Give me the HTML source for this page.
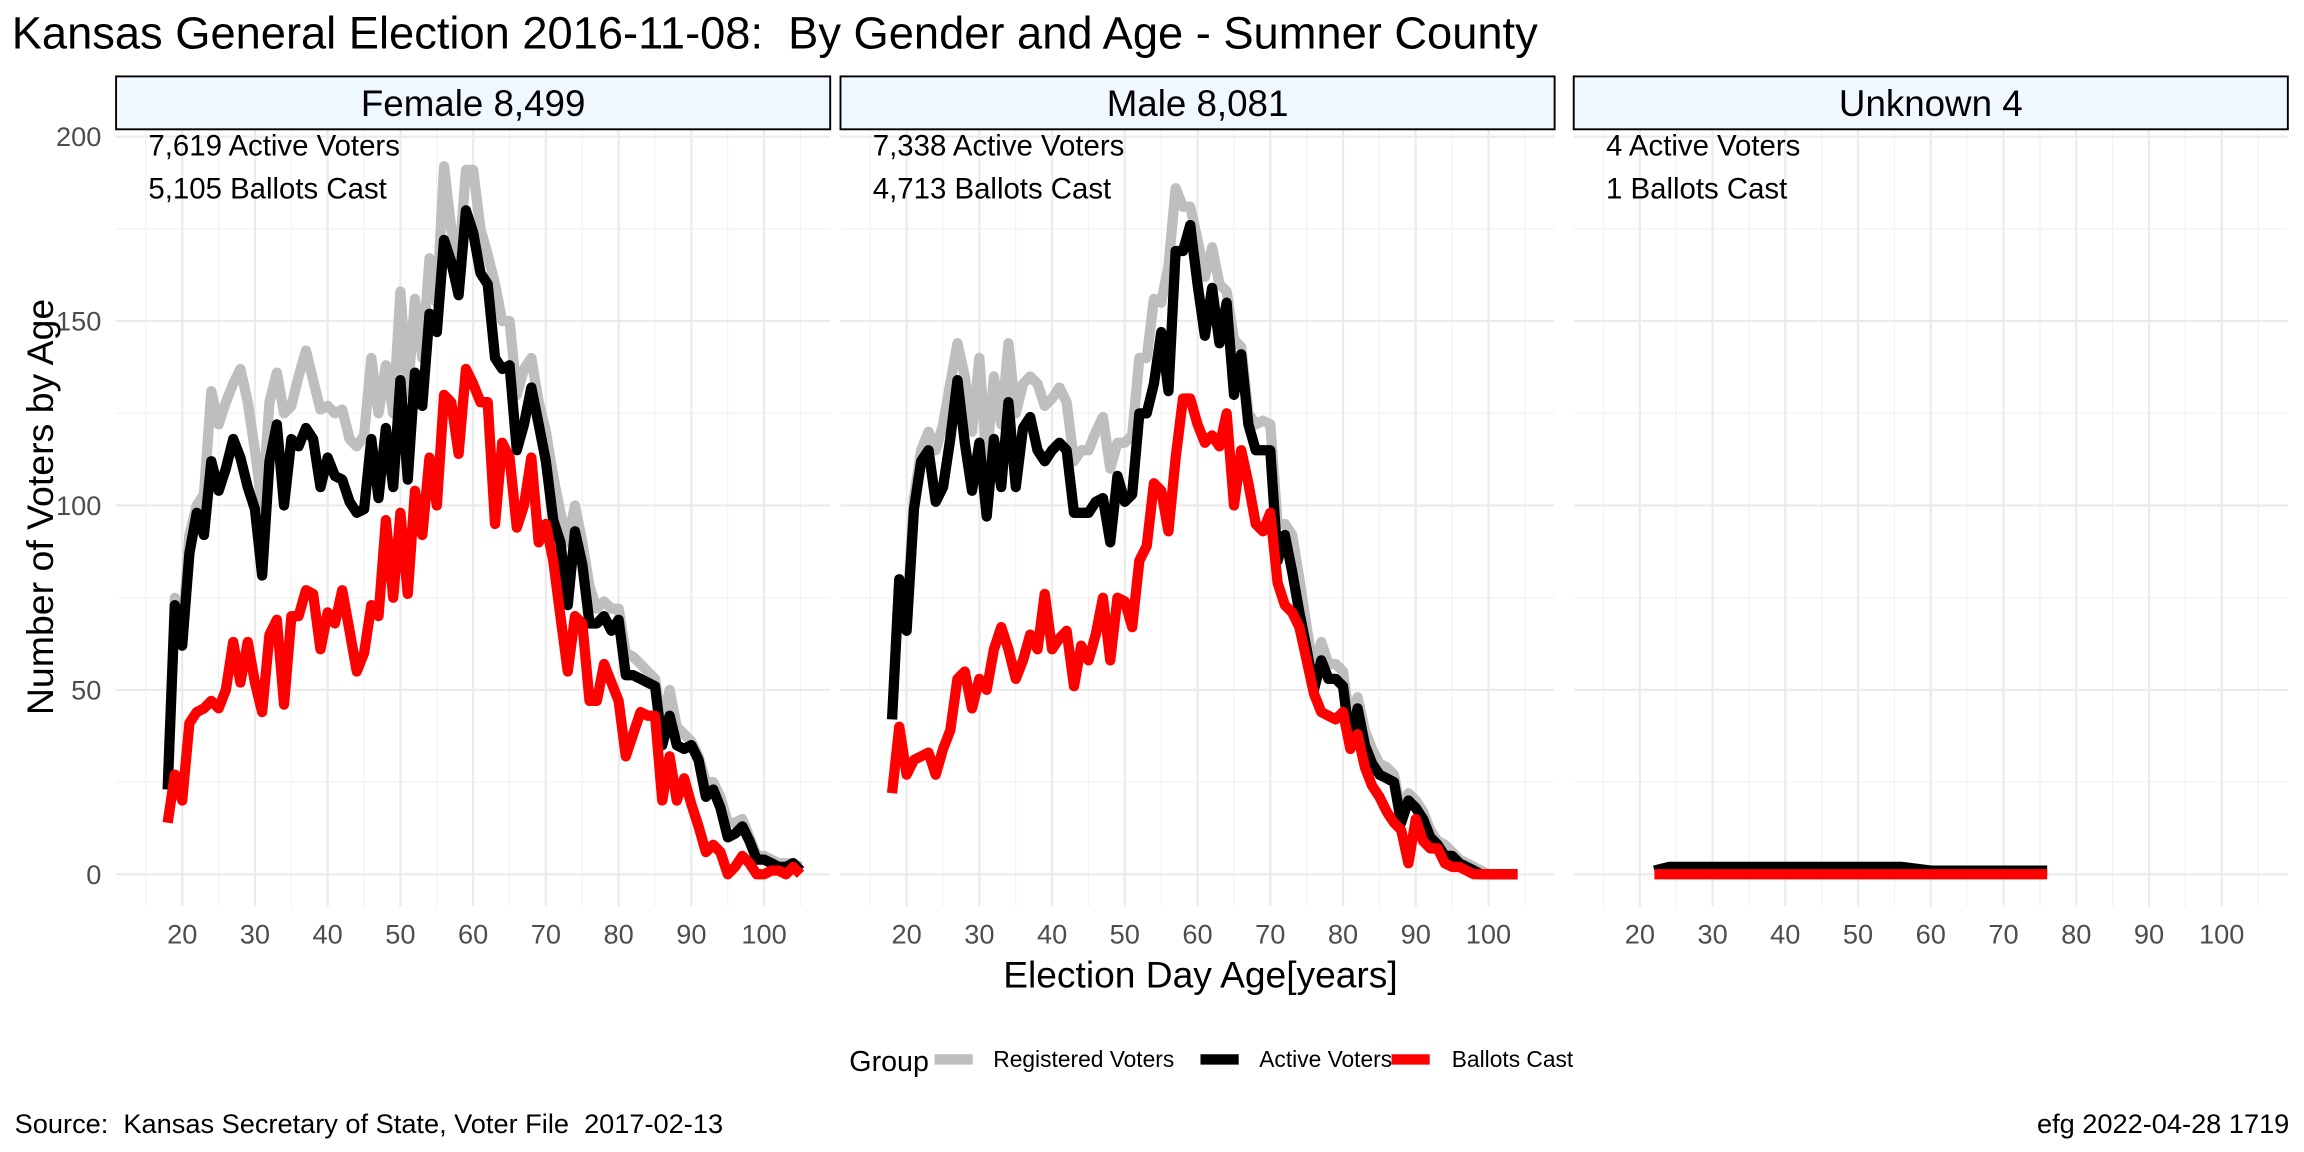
<!DOCTYPE html>
<html><head><meta charset="utf-8"><style>
html,body{margin:0;padding:0;background:#fff;}
svg{display:block;font-family:"Liberation Sans",sans-serif;}
text{white-space:pre;}
</style></head><body>
<svg id="chart" width="2304" height="1152" viewBox="0 0 1568 784" xmlns="http://www.w3.org/2000/svg" xml:space="preserve">
<rect width="1568" height="784" fill="#fff"/>
<text x="8" y="33" font-size="30.8" fill="#000">Kansas General Election 2016-11-08:  By Gender and Age - Sumner County</text>
<g id="panels"></g>
<text transform="translate(36,345) rotate(-90)" text-anchor="middle" font-size="25.5">Number of Voters by Age</text>
<text x="817" y="672" text-anchor="middle" font-size="25.3">Election Day Age[years]</text>
<g>
<text x="578" y="729" font-size="19.5">Group</text>
<line x1="636" y1="721" x2="662" y2="721" stroke="#bebebe" stroke-width="7"/>
<text x="676" y="726" font-size="15.5">Registered Voters</text>
<line x1="817" y1="721" x2="843" y2="721" stroke="#000" stroke-width="7"/>
<text x="857" y="726" font-size="15.5">Active Voters</text>
<line x1="947" y1="721" x2="973" y2="721" stroke="#ff0000" stroke-width="7"/>
<text x="988" y="726" font-size="15.5">Ballots Cast</text>
</g>
<text x="10" y="771" font-size="18.5">Source:  Kansas Secretary of State, Voter File  2017-02-13</text>
<text x="1558" y="771" font-size="18.5" text-anchor="end">efg 2022-04-28 1719</text>
</svg>
<script>
const ages=[];for(let a=18;a<=105;a++)ages.push(a);
const agesMale=[];for(let a=18;a<=104;a++)agesMale.push(a);
const agesUnknown=[22,24,30,43,56,60,76];
const femaleRegistered=[23,75,65,92,100,103,131,122,128,133,137,128,115,100,128,136,125,127,135,142,134,126,127,125,126,118,116,119,140,125,138,125,158,130,156,140,167,155,192,175,165,191,191,175,168,160,150,150,130,137,140,128,120,108,98,90,100,90,78,72,74,72,72,60,59,57,55,53,40,50,40,38,36,32,25,25,21,14,14,15,10,5,5,4,3,3,3,2];
const femaleActive=[23,73,62,87,98,92,112,104,110,118,113,105,99,81,112,122,100,118,116,121,118,105,113,108,107,101,98,99,118,102,121,105,134,107,136,127,152,147,172,166,157,180,174,163,160,140,137,138,115,122,132,122,112,96,90,73,93,84,68,68,70,66,69,54,54,53,52,51,35,43,35,34,35,31,21,23,18,10,11,13,9,4,4,3,2,2,3,1];
const femaleBallots=[14,27,20,41,44,45,47,45,50,63,52,63,52,44,65,69,46,70,70,77,76,61,71,68,77,66,55,60,73,70,96,75,98,76,104,92,113,100,130,128,114,137,133,128,128,95,117,113,94,100,113,90,95,85,70,55,70,68,47,47,57,52,47,32,38,44,43,43,20,32,20,26,19,13,6,8,6,0,2,5,3,0,0,1,1,0,2,0];
const maleRegistered=[42,80,68,102,115,120,115,122,133,144,135,120,140,112,135,122,144,125,133,135,133,127,129,132,128,112,115,115,120,124,110,117,117,119,140,140,156,155,165,186,181,181,172,162,170,160,158,145,143,125,122,123,122,95,95,92,80,67,55,63,57,57,55,40,48,39,34,30,29,27,17,22,20,17,12,9,8,6,4,3,2,1,0,0,0,0,0];
const maleActive=[42,80,66,99,112,115,101,105,118,134,117,104,117,97,118,105,128,105,121,124,115,112,115,117,115,98,98,98,101,102,90,108,101,103,125,125,133,147,131,169,169,176,160,146,159,144,155,130,141,122,115,115,115,85,92,82,71,61,50,58,53,53,51,35,45,35,30,27,26,25,14,20,18,15,10,8,5,5,3,2,1,0,0,0,0,0,0];
const maleBallots=[22,40,27,31,32,33,27,34,39,53,55,45,53,50,61,67,61,53,58,65,61,76,61,64,66,51,62,58,65,75,58,75,74,67,85,89,106,104,93,113,129,129,122,117,119,116,125,100,115,106,95,93,98,79,73,71,67,58,49,44,43,42,44,34,38,29,24,21,17,14,12,3,15,9,7,7,3,2,2,1,0,0,0,0,0,0,0];
const unknownRegistered=[1,2,2,2,2,1,1];
const unknownActive=[1,2,2,2,2,1,1];
const unknownBallots=[0,0,0,0,0,0,0];
const yTicks=[0,50,100,150,200];
const xTicks=[20,30,40,50,60,70,80,90,100];

const NS="http://www.w3.org/2000/svg";
const g=document.getElementById('panels');
function mk(tag,attrs,parent){const e=document.createElementNS(NS,tag);for(const k in attrs)e.setAttribute(k,attrs[k]);(parent||g).appendChild(e);return e;}
const yScale=v=>595-v*2.51;
const panelTop=88,panelBottom=617,panelW=486;
const panels=[
 {x0:79,name:'female',label:'Female 8,499',t1:'7,619 Active Voters',t2:'5,105 Ballots Cast',ages:ages,reg:femaleRegistered,act:femaleActive,bal:femaleBallots},
 {x0:572,name:'male',label:'Male 8,081',t1:'7,338 Active Voters',t2:'4,713 Ballots Cast',ages:agesMale,reg:maleRegistered,act:maleActive,bal:maleBallots},
 {x0:1071,name:'unknown',label:'Unknown 4',t1:'4 Active Voters',t2:'1 Ballots Cast',ages:agesUnknown,reg:unknownRegistered,act:unknownActive,bal:unknownBallots}
];
panels.forEach((p,pi)=>{
 const xScale=a=>p.x0+45+(a-20)*4.95;
 const pg=mk('g',{});
 
 
 for(let v=25;v<=200;v+=50){const l=mk('line',{x1:p.x0,x2:p.x0+panelW,y1:yScale(v),y2:yScale(v),stroke:'#f2f2f2','stroke-width':0.8},pg);
  }
 for(let a=15;a<=105;a+=10){const l=mk('line',{x1:xScale(a),x2:xScale(a),y1:panelTop,y2:panelBottom,stroke:'#f2f2f2','stroke-width':0.8},pg);
  }
 yTicks.forEach(v=>{const l=mk('line',{x1:p.x0,x2:p.x0+panelW,y1:yScale(v),y2:yScale(v),stroke:'#ebebeb','stroke-width':1.5},pg);
  });
 xTicks.forEach(a=>{const l=mk('line',{x1:xScale(a),x2:xScale(a),y1:panelTop,y2:panelBottom,stroke:'#ebebeb','stroke-width':1.5},pg);
  
  const t=mk('text',{x:xScale(a),y:642,'text-anchor':'middle','font-size':18.5,fill:'#4d4d4d'},pg);t.textContent=a;
  });
 if(pi===0){yTicks.forEach(v=>{const t=mk('text',{x:69,y:yScale(v)+6.5,'text-anchor':'end','font-size':18.5,fill:'#4d4d4d'});t.textContent=v;
  });}
 const s=mk('rect',{x:p.x0,y:52,width:panelW,height:36,fill:'#f0f8ff',stroke:'#000','stroke-width':1.3},pg);
 
 const st=mk('text',{x:p.x0+panelW/2,y:79,'text-anchor':'middle','font-size':25},pg);st.textContent=p.label;
 
 [['reg','#bebebe','registered'],['act','#000','active'],['bal','#ff0000','ballots']].forEach(([k,c,n])=>{
  const d=p.ages.map((a,i)=>(i?'L':'M')+xScale(a).toFixed(1)+','+yScale(p[k][i]).toFixed(1)).join('');
  const path=mk('path',{d:d,fill:'none',stroke:c,'stroke-width':7,'stroke-linejoin':'round'},pg);
  
  
 });
 const a1=mk('text',{x:p.x0+22,y:106,'font-size':20},pg);a1.textContent=p.t1;
 
 const a2=mk('text',{x:p.x0+22,y:135,'font-size':20},pg);a2.textContent=p.t2;
 
});
</script>
</body></html>
